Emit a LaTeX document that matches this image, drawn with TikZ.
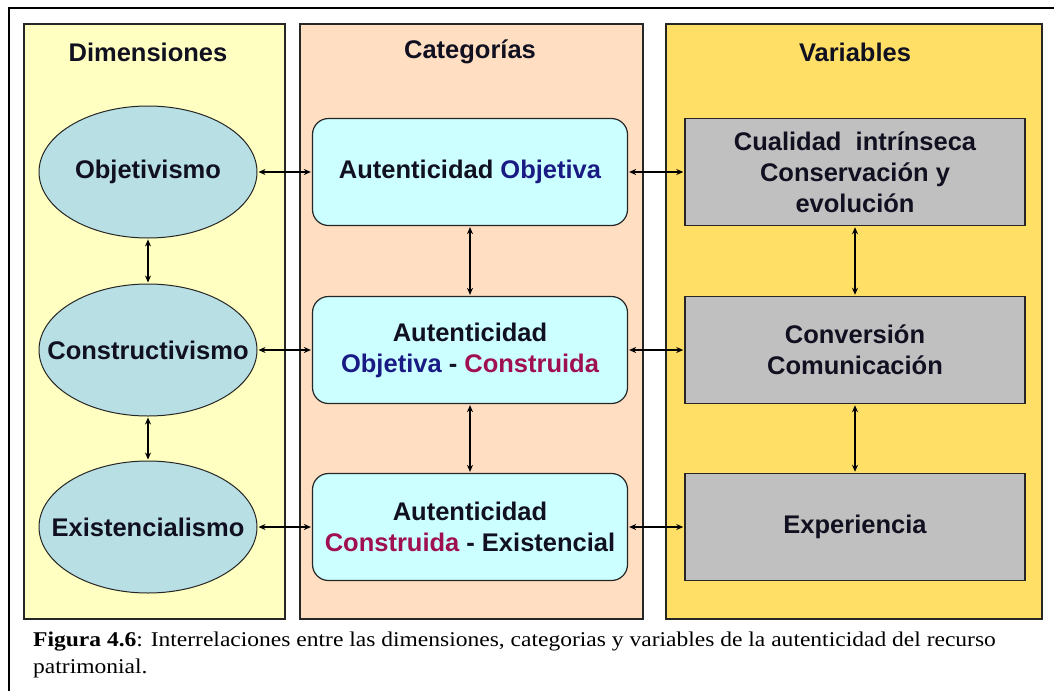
\documentclass[tikz,border=0pt]{standalone}
\usepackage{fontspec}
\setmainfont{Liberation Serif}
\newfontfamily\diagfont{Liberation Sans}
\usetikzlibrary{shapes.geometric,arrows.meta}
\definecolor{panelyellow}{HTML}{FFFFC2}
\definecolor{panelpeach}{HTML}{FFDEC2}
\definecolor{panelgold}{HTML}{FFDF66}
\definecolor{ellfill}{HTML}{B8DFE3}
\definecolor{catfill}{HTML}{CCFFFF}
\definecolor{varfill}{HTML}{C0C0C0}
\definecolor{objblue}{HTML}{1A1A85}
\definecolor{conred}{HTML}{A01050}
\definecolor{txtdark}{HTML}{101020}
\tikzset{
  panel/.style={draw=black!85, line width=1.5pt},
  dtext/.style={font=\diagfont\bfseries\fontsize{25.5}{31}\selectfont, text=txtdark, align=center, inner sep=0pt},
  ell/.style={dtext, ellipse, draw=black!85, line width=1pt, fill=ellfill, minimum width=218pt, minimum height=132pt},
  catbox/.style={dtext, rectangle, rounded corners=16pt, draw=black!85, line width=1.2pt, fill=catfill, minimum width=315pt, minimum height=107pt},
  varbox/.style={dtext, rectangle, draw=black!85, line width=1.5pt, fill=varfill, minimum width=340pt, minimum height=107pt},
  header/.style={dtext},
  biarrow/.style={{Stealth[length=7pt,width=6pt]}-{Stealth[length=7pt,width=6pt]}, line width=1.8pt, black, shorten <=1pt, shorten >=1pt},
  captext/.style={font=\fontsize{21}{27}\selectfont, anchor=base west, inner sep=0pt, text=black}
}
\begin{document}
\begin{tikzpicture}[x=1pt,y=-1pt]
\useasboundingbox (0,0) rectangle (1054,691);
\fill[white] (0,0) rectangle (1054,691);
\draw[line width=1.5pt] (9,691) -- (9,8) -- (1054,8);
% panels
\draw[panel, fill=panelyellow] (24,24) rectangle (285,619);
\draw[panel, fill=panelpeach] (300,24) rectangle (643,619);
\draw[panel, fill=panelgold] (666,24) rectangle (1042,619);
% headers
\node[header] (h1) at (148,52) {Dimensiones};
\node[header] (h2) at (470,52) {Categorías};
\node[header] (h3) at (855,52) {Variables};
% ellipses
\node[ell] (o1) at (148,172) {\makebox[0pt]{Objetivismo}};
\node[ell] (o2) at (148,350) {\makebox[0pt]{Constructivismo}};
\node[ell] (o3) at (148,527) {\makebox[0pt]{Existencialismo}};
% categories
\node[catbox] (c1) at (470,172) {Autenticidad \textcolor{objblue}{Objetiva}};
\node[catbox] (c2) at (470,350) {Autenticidad\\\textcolor{objblue}{Objetiva} - \textcolor{conred}{Construida}};
\node[catbox] (c3) at (470,527) {Autenticidad\\\textcolor{conred}{Construida} - Existencial};
% variables
\node[varbox] (g1) at (855,172) {Cualidad\ \ intrínseca\\Conservación y\\evolución};
\node[varbox] (g2) at (855,350) {Conversión\\Comunicación};
\node[varbox] (g3) at (855,527) {Experiencia};
% connectors
\draw[biarrow] (o1.east) -- (c1.west);
\draw[biarrow] (o2.east) -- (c2.west);
\draw[biarrow] (o3.east) -- (c3.west);
\draw[biarrow] (c1.east) -- (g1.west);
\draw[biarrow] (c2.east) -- (g2.west);
\draw[biarrow] (c3.east) -- (g3.west);
\draw[biarrow] (o1.south) -- (o2.north);
\draw[biarrow] (o2.south) -- (o3.north);
\draw[biarrow] (c1.south) -- (c2.north);
\draw[biarrow] (c2.south) -- (c3.north);
\draw[biarrow] (g1.south) -- (g2.north);
\draw[biarrow] (g2.south) -- (g3.north);
% caption
\node[captext] (cap1) at (33,646) {\scalebox{1.12}[1]{\textbf{Figura 4.6}: Interrelaciones entre las dimensiones, categorias y variables de la autenticidad del recurso}};
\node[captext] (cap2) at (33,673) {\scalebox{1.12}[1]{patrimonial.}};
\end{tikzpicture}
\end{document}
